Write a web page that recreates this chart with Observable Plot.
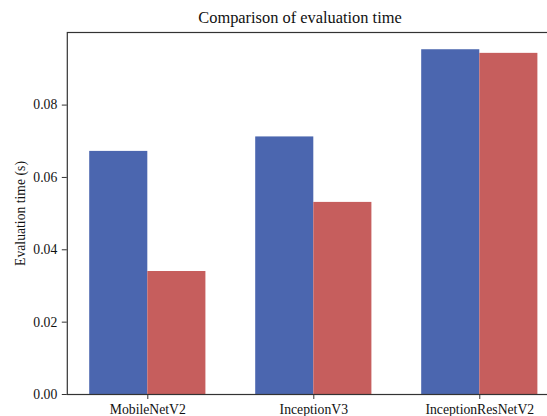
<!DOCTYPE html>
<html>
<head>
<meta charset="utf-8">
<script src="https://cdn.jsdelivr.net/npm/d3@7"></script>
<script src="https://cdn.jsdelivr.net/npm/@observablehq/plot@0.6"></script>
<style>
  html, body { margin: 0; padding: 0; background: #fff; }
  #wrap { position: relative; width: 547px; height: 416px; overflow: hidden; }
  #title { position: absolute; left: 0; top: 8px; width: 600px; text-align: center;
           font-family: "Liberation Serif", serif; font-size: 16.4px; line-height: 20px; color: #111; }
  #chart { position: absolute; left: 0; top: 0; }
</style>
</head>
<body>
<div id="wrap">
  <div id="chart"></div>
  <div id="title">Comparison of evaluation time</div>
</div>
<script>
const categories = ["MobileNetV2", "InceptionV3", "InceptionResNetV2"];
const seriesBlue = [0.0672, 0.0712, 0.0953];
const seriesRed = [0.0340, 0.0531, 0.0943];
const yTicks = [0.00, 0.02, 0.04, 0.06, 0.08];
const yLabel = "Evaluation time (s)";
const colors = ["#4B66AF", "#C65E5D"];

const barWidth = 0.35;
const rows = [];
categories.forEach((c, i) => {
  rows.push({category: c, idx: i, series: "a", value: seriesBlue[i], x1: i - barWidth, x2: i});
  rows.push({category: c, idx: i, series: "b", value: seriesRed[i], x1: i, x2: i + barWidth});
});

const yMax = Math.max(...seriesBlue, ...seriesRed) * 1.05;

const plot = Plot.plot({
  width: 547,
  height: 416,
  marginTop: 32,
  marginBottom: 22,
  marginLeft: 66.8,
  marginRight: -12.8,
  style: {fontFamily: "Liberation Serif, serif", fontSize: "13.7px", color: "#111", background: "transparent"},
  x: {domain: [-0.485, categories.length - 1 + 0.485]},
  y: {domain: [0, yMax]},
  color: {domain: ["a", "b"], range: colors},
  marks: [
    Plot.rectY(rows, {x1: "x1", x2: "x2", y1: 0, y2: "value", fill: "series"}),
    Plot.frame({stroke: "#333", strokeWidth: 1.2}),
    Plot.axisY({ticks: yTicks, tickFormat: d3.format(".2f"), tickSize: 5, tickPadding: 5, label: null, stroke: "#333", fill: "#111"}),
    Plot.axisX({ticks: categories.map((c, i) => i), tickFormat: i => categories[i], tickSize: 5, tickPadding: 5, label: null, stroke: "#333", fill: "#111"}),
    Plot.text([yLabel], {frameAnchor: "left", textAnchor: "middle", lineAnchor: "middle", rotate: -90, dx: -47, text: d => d, fill: "#111", fontSize: 13.7})
  ]
});
document.getElementById("chart").appendChild(plot);
</script>
</body>
</html>
